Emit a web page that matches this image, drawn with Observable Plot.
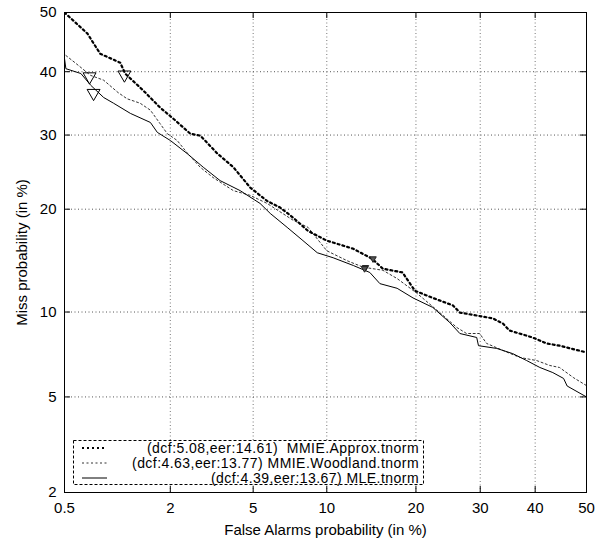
<!DOCTYPE html>
<html>
<head>
<meta charset="utf-8">
<script src="https://cdn.jsdelivr.net/npm/d3@7"></script>
<script src="https://cdn.jsdelivr.net/npm/@observablehq/plot@0.6"></script>
<style>
  body { margin: 0; background: white; }
  #wrap { position: relative; width: 607px; height: 539px; }
  #legend { position: absolute; left: 0; top: 0; pointer-events: none; }
</style>
</head>
<body>
<div id="wrap"></div>
<script>
// ---- tick values (percent) ----
const xTicks = [0.5, 2, 5, 10, 20, 30, 40, 50];
const yTicks = [2, 5, 10, 20, 30, 40, 50];

// ---- series: false alarm (%) and miss (%) ----
const approxFa   = [0.5, 0.69, 0.82, 1.07, 1.14, 1.44, 1.77, 2.07, 2.53, 2.84, 3.43, 4.07, 4.85, 5.75, 6.53, 7.39, 8.47, 10.0, 12.5, 14.5, 15.75, 18.2, 19.85, 22.4, 25.5, 26.6, 29.4, 32.2, 34.0, 35.2, 39.5, 42.2, 44.7, 50];
const approxMiss = [50, 46.4, 43.0, 41.5, 39.7, 36.9, 34.2, 32.5, 30.2, 29.9, 27.3, 25.4, 22.7, 21.0, 20.2, 19.0, 17.5, 16.45, 15.6, 14.6, 13.65, 13.3, 11.7, 11.1, 10.5, 9.96, 9.74, 9.53, 9.16, 8.68, 8.22, 7.84, 7.7, 7.29];

const woodFa   = [0.51, 0.58, 0.72, 0.86, 1.04, 1.17, 1.38, 1.57, 1.77, 1.93, 2.17, 2.44, 2.83, 3.27, 4.07, 4.85, 5.75, 7.39, 8.47, 10.0, 11.9, 13.5, 15.75, 17.5, 20.1, 23.45, 26.1, 27.7, 29.9, 31.1, 34.0, 37.1, 40.3, 42.8, 44.7, 47.5, 50];
const woodMiss = [42.7, 41.5, 39.4, 38.6, 36.6, 35.6, 34.9, 33.8, 31.7, 30.2, 29.2, 27.4, 25.4, 24.0, 22.3, 21.7, 20.7, 18.7, 17.9, 15.4, 14.4, 13.8, 13.5, 12.75, 11.5, 9.96, 8.89, 8.48, 8.48, 7.84, 7.41, 7.0, 6.82, 6.55, 6.44, 5.9, 5.52];

const mleFa   = [0.5, 0.51, 0.63, 0.72, 0.86, 0.98, 1.22, 1.57, 1.71, 2.0, 2.44, 2.93, 3.53, 4.37, 5.36, 5.93, 6.98, 8.09, 9.2, 10.56, 12.5, 14.25, 15.4, 17.5, 19.6, 22.4, 25.0, 26.6, 29.4, 29.7, 32.9, 35.8, 38.4, 40.9, 43.4, 45.5, 46.2, 50];
const mleMiss = [42.2, 40.5, 39.7, 37.8, 35.8, 34.9, 33.3, 31.9, 30.4, 29.2, 27.3, 25.4, 23.6, 22.3, 20.7, 19.5, 17.9, 16.45, 15.2, 14.7, 13.95, 13.3, 12.3, 11.9, 11.1, 10.35, 9.23, 8.48, 8.22, 7.7, 7.53, 7.22, 6.82, 6.44, 6.17, 5.87, 5.5, 5.0];

// ---- markers ----
const dcfFa   = [1.13, 0.71, 0.75];
const dcfMiss = [39.5, 39.2, 36.5];
const eer     = [14.61, 13.77, 13.67];

const legendLabels = [
  "(dcf:5.08,eer:14.61)  MMIE.Approx.tnorm",
  "(dcf:4.63,eer:13.77) MMIE.Woodland.tnorm",
  "(dcf:4.39,eer:13.67) MLE.tnorm"
];

// ---- inverse normal CDF (Acklam) ----
function invNorm(p) {
  const a = [-3.969683028665376e+01, 2.209460984245205e+02, -2.759285104469687e+02, 1.383577518672690e+02, -3.066479806614716e+01, 2.506628277459239e+00];
  const b = [-5.447609879822406e+01, 1.615858368580409e+02, -1.556989798598866e+02, 6.680131188771972e+01, -1.328068155288572e+01];
  const c = [-7.784894002430293e-03, -3.223964580411365e-01, -2.400758277161838e+00, -2.549732539343734e+00, 4.374664141464968e+00, 2.938163982698783e+00];
  const d = [7.784695709041462e-03, 3.224671290700398e-01, 2.445134137142996e+00, 3.754408661907416e+00];
  const plow = 0.02425, phigh = 1 - plow;
  let q, r;
  if (p < plow) {
    q = Math.sqrt(-2 * Math.log(p));
    return (((((c[0]*q+c[1])*q+c[2])*q+c[3])*q+c[4])*q+c[5]) / ((((d[0]*q+d[1])*q+d[2])*q+d[3])*q+1);
  } else if (p <= phigh) {
    q = p - 0.5; r = q * q;
    return (((((a[0]*r+a[1])*r+a[2])*r+a[3])*r+a[4])*r+a[5])*q / (((((b[0]*r+b[1])*r+b[2])*r+b[3])*r+b[4])*r+1);
  } else {
    q = Math.sqrt(-2 * Math.log(1 - p));
    return -(((((c[0]*q+c[1])*q+c[2])*q+c[3])*q+c[4])*q+c[5]) / ((((d[0]*q+d[1])*q+d[2])*q+d[3])*q+1);
  }
}
const probit = pct => invNorm(pct / 100);

const xT = xTicks.map(probit);
const yT = yTicks.map(probit);
const xLab = new Map(xT.map((v, i) => [v, String(xTicks[i])]));
const yLab = new Map(yT.map((v, i) => [v, String(yTicks[i])]));

const toRows = (fa, miss) => fa.map((f, i) => ({x: probit(f), y: probit(miss[i])}));
const approx = toRows(approxFa, approxMiss);
const wood = toRows(woodFa, woodMiss);
const mle = toRows(mleFa, mleMiss);
const dcfPts = toRows(dcfFa, dcfMiss);
const eerPts = toRows(eer, eer);

const triDown = {
  draw(ctx, size) {
    const y = Math.sqrt(size / (3 * Math.sqrt(3)));
    const s3 = Math.sqrt(3);
    ctx.moveTo(0, 2 * y);
    ctx.lineTo(s3 * y, -y);
    ctx.lineTo(-s3 * y, -y);
    ctx.closePath();
  }
};

const W = 607, H = 539, ML = 64, MR = 21, MT = 12, MB = 47;
const plotW = W - ML - MR, plotH = H - MT - MB;
const font = "'Liberation Sans', Arial, Helvetica, sans-serif";

const chart = Plot.plot({
  width: W, height: H,
  marginLeft: ML, marginRight: MR, marginTop: MT, marginBottom: MB,
  style: {fontFamily: font, fontSize: "15px", background: "white", color: "black", overflow: "visible"},
  x: {domain: [probit(0.5), probit(50)]},
  y: {domain: [probit(2), probit(50)]},
  marks: [
    Plot.gridX({ticks: xT, stroke: "#777", strokeOpacity: 1, strokeDasharray: "1,2.5"}),
    Plot.gridY({ticks: yT, stroke: "#555", strokeOpacity: 1, strokeDasharray: "1,2.5"}),
    Plot.tickX(xT, {x: d => d, insetTop: plotH - 6, stroke: "black"}),
    Plot.tickX(xT, {x: d => d, insetBottom: plotH - 6, stroke: "black"}),
    Plot.tickY(yT, {y: d => d, insetRight: plotW - 6, stroke: "black"}),
    Plot.tickY(yT, {y: d => d, insetLeft: plotW - 6, stroke: "black"}),
    Plot.line(wood, {x: "x", y: "y", stroke: "#333", strokeWidth: 1, strokeDasharray: "2,2.5", clip: true}),
    Plot.line(mle, {x: "x", y: "y", stroke: "black", strokeWidth: 1, clip: true}),
    Plot.line(approx, {x: "x", y: "y", stroke: "black", strokeWidth: 2.2, strokeDasharray: "2,3", clip: true}),
    Plot.dot(dcfPts, {x: "x", y: "y", symbol: triDown, r: 4.8, stroke: "black", strokeWidth: 1, fill: "none"}),
    Plot.dot(eerPts, {x: "x", y: "y", symbol: triDown, r: 2.4, stroke: "#222", strokeWidth: 1, fill: "#555"}),
    Plot.axisX({ticks: xT, tickSize: 0, tickPadding: 10, tickFormat: d => xLab.get(d),
      label: "False Alarms probability (in %)", labelAnchor: "center", labelOffset: 42, labelArrow: "none"}),
    Plot.axisY({ticks: yT, tickSize: 0, tickPadding: 8, tickFormat: d => yLab.get(d),
      label: "Miss probability (in %)", labelAnchor: "center", labelOffset: 48, labelArrow: "none"}),
    Plot.frame({stroke: "black", strokeWidth: 1})
  ]
});

const wrap = document.getElementById("wrap");
wrap.appendChild(chart);

// ---- legend overlay ----
const ns = "http://www.w3.org/2000/svg";
const lg = document.createElementNS(ns, "svg");
lg.setAttribute("id", "legend");
lg.setAttribute("width", W);
lg.setAttribute("height", H);
const box = document.createElementNS(ns, "rect");
box.setAttribute("x", 73.5); box.setAttribute("y", 440.5);
box.setAttribute("width", 350); box.setAttribute("height", 44);
box.setAttribute("fill", "white"); box.setAttribute("stroke", "black");
box.setAttribute("stroke-width", 1); box.setAttribute("stroke-dasharray", "3,2");
lg.appendChild(box);
const styles = [
  {stroke: "black", w: 2.2, dash: "2,3"},
  {stroke: "#333", w: 1, dash: "2,2.5"},
  {stroke: "black", w: 1, dash: null}
];
legendLabels.forEach((t, i) => {
  const cy = 448 + i * 15;
  const ln = document.createElementNS(ns, "line");
  ln.setAttribute("x1", 82); ln.setAttribute("x2", 107);
  ln.setAttribute("y1", cy); ln.setAttribute("y2", cy);
  ln.setAttribute("stroke", styles[i].stroke);
  ln.setAttribute("stroke-width", styles[i].w);
  if (styles[i].dash) ln.setAttribute("stroke-dasharray", styles[i].dash);
  lg.appendChild(ln);
  const tx = document.createElementNS(ns, "text");
  tx.setAttribute("x", 419); tx.setAttribute("y", cy + 5);
  tx.setAttribute("text-anchor", "end");
  tx.setAttribute("font-family", font);
  tx.setAttribute("font-size", "14px");
  tx.setAttribute("letter-spacing", "0.45px");
  tx.setAttribute("style", "white-space:pre");
  tx.textContent = t;
  lg.appendChild(tx);
});
wrap.appendChild(lg);
</script>
</body>
</html>
